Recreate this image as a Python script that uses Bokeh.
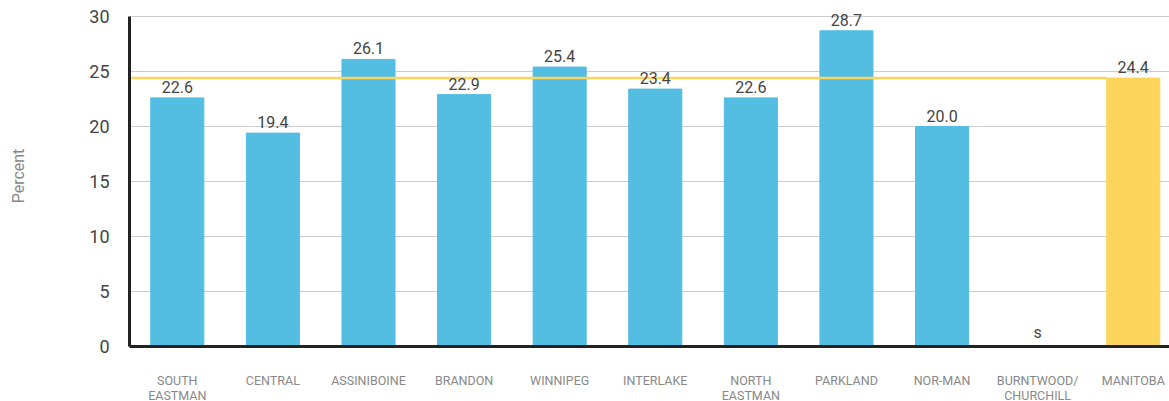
from bokeh.plotting import figure
from bokeh.models import ColumnDataSource, FixedTicker, Range1d
from bokeh.core.properties import value
from bokeh.embed import file_html
from bokeh.resources import INLINE

regions = ["SOUTH\nEASTMAN", "CENTRAL", "ASSINIBOINE", "BRANDON", "WINNIPEG",
           "INTERLAKE", "NORTH\nEASTMAN", "PARKLAND", "NOR-MAN",
           "BURNTWOOD/\nCHURCHILL", "MANITOBA"]
values = [22.6, 19.4, 26.1, 22.9, 25.4, 23.4, 22.6, 28.7, 20.0, 0.0, 24.4]
labels = ["22.6", "19.4", "26.1", "22.9", "25.4", "23.4", "22.6", "28.7", "20.0", "s", "24.4"]
manitoba_avg = 24.4
y_ticks = [0, 5, 10, 15, 20, 25, 30]

BLUE = "#53BDE2"
YELLOW = "#FDD55C"
colors = [BLUE] * 10 + [YELLOW]
bar_w = 0.555
xs = [i + 0.5 for i in range(len(regions))]

p = figure(frame_width=1041, frame_height=341, output_backend="svg", toolbar_location=None,
           x_range=Range1d(0, 10.89), y_range=Range1d(0, 31),
           min_border_left=129, min_border_right=0, min_border_top=5, min_border_bottom=0)
p.outline_line_color = None
p.background_fill_color = "white"
p.border_fill_color = "white"

src = ColumnDataSource(dict(x=xs, top=values, color=colors, label=labels))
p.vbar(x="x", top="top", width=bar_w, color="color", source=src)

# provincial average line, ending at the Manitoba bar
p.segment(x0=[0], y0=[manitoba_avg], x1=[xs[-1] - bar_w / 2], y1=[manitoba_avg],
          line_color=YELLOW, line_width=2.5)

p.text(x="x", y="top", text="label", source=src, text_align="center",
       text_baseline="bottom", y_offset=-5, text_font=value("Roboto"),
       text_font_size="16px", text_color="#444444")

# y axis
p.yaxis.ticker = FixedTicker(ticks=y_ticks)
p.yaxis.bounds = (0, 30)
p.yaxis.axis_line_color = "#222222"
p.yaxis.axis_line_width = 3
p.yaxis.major_tick_line_color = None
p.yaxis.minor_tick_line_color = None
p.yaxis.major_label_text_font = "Roboto"
p.yaxis.major_label_text_font_size = "18px"
p.yaxis.major_label_text_color = "#444444"
p.yaxis.major_label_standoff = 14
p.yaxis.axis_label = "Percent"
p.yaxis.axis_label_text_font = "Roboto"
p.yaxis.axis_label_text_font_style = "normal"
p.yaxis.axis_label_text_font_size = "16px"
p.yaxis.axis_label_text_color = "#888888"
p.yaxis.axis_label_standoff = 58

# x axis
p.xaxis.ticker = FixedTicker(ticks=xs)
p.xaxis.major_label_overrides = {x: r for x, r in zip(xs, regions)}
p.xaxis.axis_line_color = "#222222"
p.xaxis.axis_line_width = 3
p.xaxis.major_tick_line_color = None
p.xaxis.minor_tick_line_color = None
p.xaxis.major_label_text_font = "Roboto"
p.xaxis.major_label_text_font_size = "12.5px"
p.xaxis.major_label_text_line_height = 1.05
p.xaxis.major_label_text_color = "#888888"
p.xaxis.major_label_standoff = 20

p.xgrid.grid_line_color = None
p.ygrid.grid_line_color = "#cccccc"
p.ygrid.grid_line_width = 1

open("out.html", "w").write(file_html(p, INLINE))
